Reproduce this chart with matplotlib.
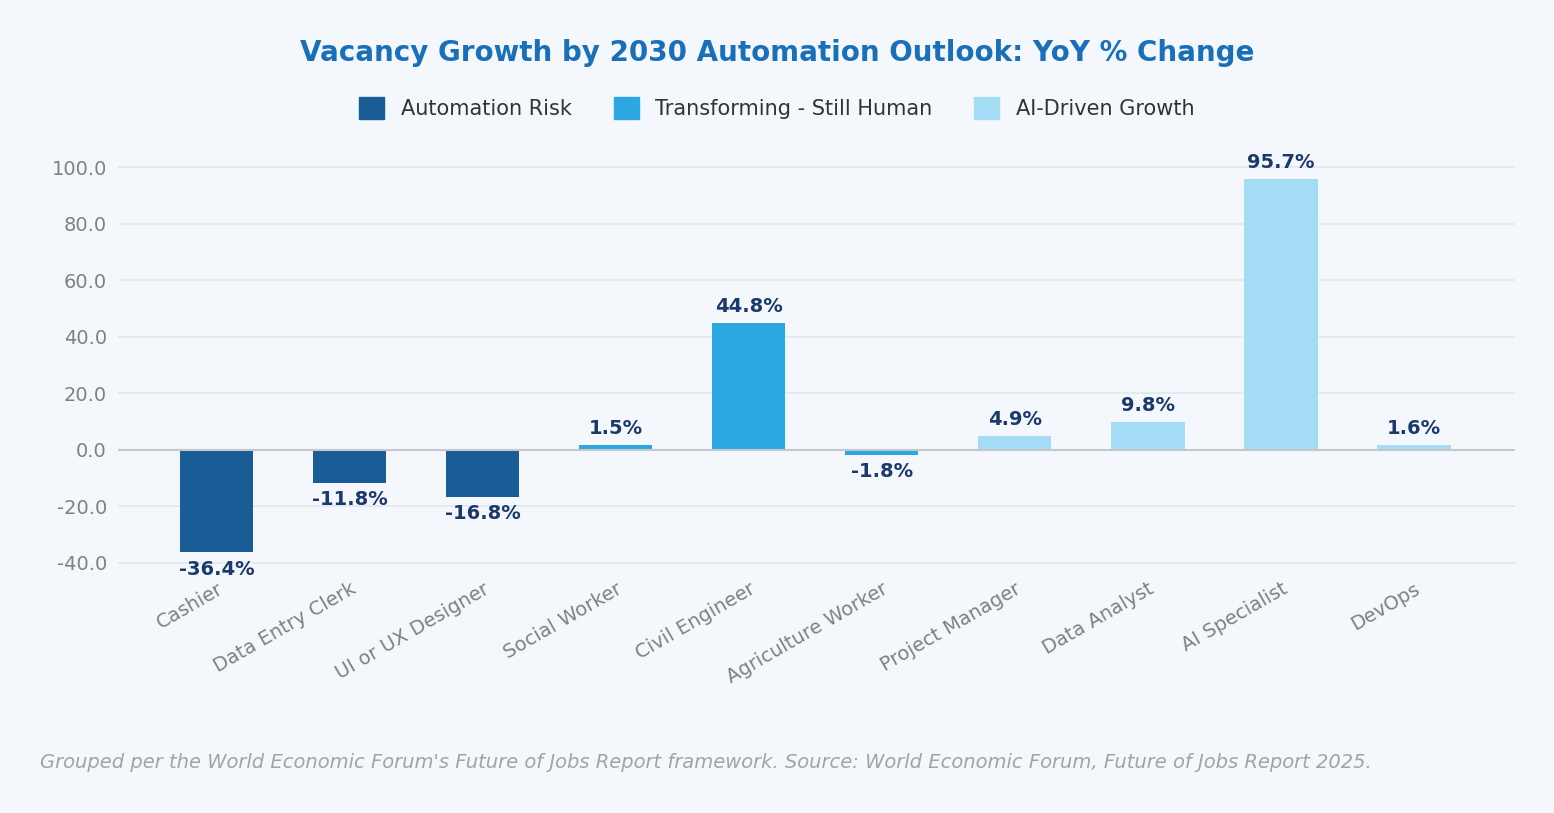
import matplotlib.pyplot as plt
from matplotlib.patches import Patch

jobs = ["Cashier", "Data Entry Clerk", "UI or UX Designer", "Social Worker",
        "Civil Engineer", "Agriculture Worker", "Project Manager",
        "Data Analyst", "AI Specialist", "DevOps"]
growth = [-36.4, -11.8, -16.8, 1.5, 44.8, -1.8, 4.9, 9.8, 95.7, 1.6]
group = ["risk", "risk", "risk", "trans", "trans", "trans",
         "ai", "ai", "ai", "ai"]

colors = {"risk": "#1a5c96", "trans": "#2ba8e2", "ai": "#a5dcf5"}
names = {"risk": "Automation Risk", "trans": "Transforming - Still Human",
         "ai": "AI-Driven Growth"}
bg = "#f4f8fc"

fig = plt.figure(figsize=(15.54, 8.13), dpi=100, facecolor=bg)
ax = fig.add_axes([0.076, 0.301, 0.899, 0.521], facecolor=bg)

x = list(range(len(jobs)))
ax.bar(x, growth, width=0.55, color=[colors[g] for g in group], zorder=3)
for xi, v in zip(x, growth):
    off = 2.5 if v >= 0 else -2.5
    ax.text(xi, v + off, f"{v}%", ha="center", va="bottom" if v >= 0 else "top",
            fontsize=14, fontweight="bold", color="#1b3a6b")

ax.set_xlim(-0.74, 9.76)
ax.set_ylim(-42, 108)
ax.set_yticks([-40, -20, 0, 20, 40, 60, 80, 100])
ax.set_yticklabels([f"{t:.1f}" for t in ax.get_yticks()])
ax.grid(axis="y", color="#e2e8ee", linewidth=1.2, zorder=0)
ax.axhline(0, color="#c4c8cc", linewidth=1.5, zorder=4)
ax.set_xticks(x)
ax.set_xticklabels(jobs, rotation=30, ha="right", rotation_mode="anchor")
ax.tick_params(length=0, labelsize=14, labelcolor="#808080", pad=8)
for s in ax.spines.values():
    s.set_visible(False)

fig.text(0.5, 0.935, "Vacancy Growth by 2030 Automation Outlook: YoY % Change",
         ha="center", va="center", fontsize=20, fontweight="bold", color="#1a6fba")
handles = [Patch(color=colors[k], label=names[k]) for k in ["risk", "trans", "ai"]]
fig.legend(handles=handles, loc="center", bbox_to_anchor=(0.5, 0.867), ncol=3,
           frameon=False, fontsize=15, handlelength=1.2, handleheight=1.2,
           columnspacing=2.0, labelcolor="#333333")
fig.text(0.026, 0.062, "Grouped per the World Economic Forum's Future of Jobs Report framework. "
         "Source: World Economic Forum, Future of Jobs Report 2025.",
         ha="left", va="center", fontsize=14, style="italic", color="#a0a4a8")

fig.savefig("out.png", dpi=100, facecolor=bg)
